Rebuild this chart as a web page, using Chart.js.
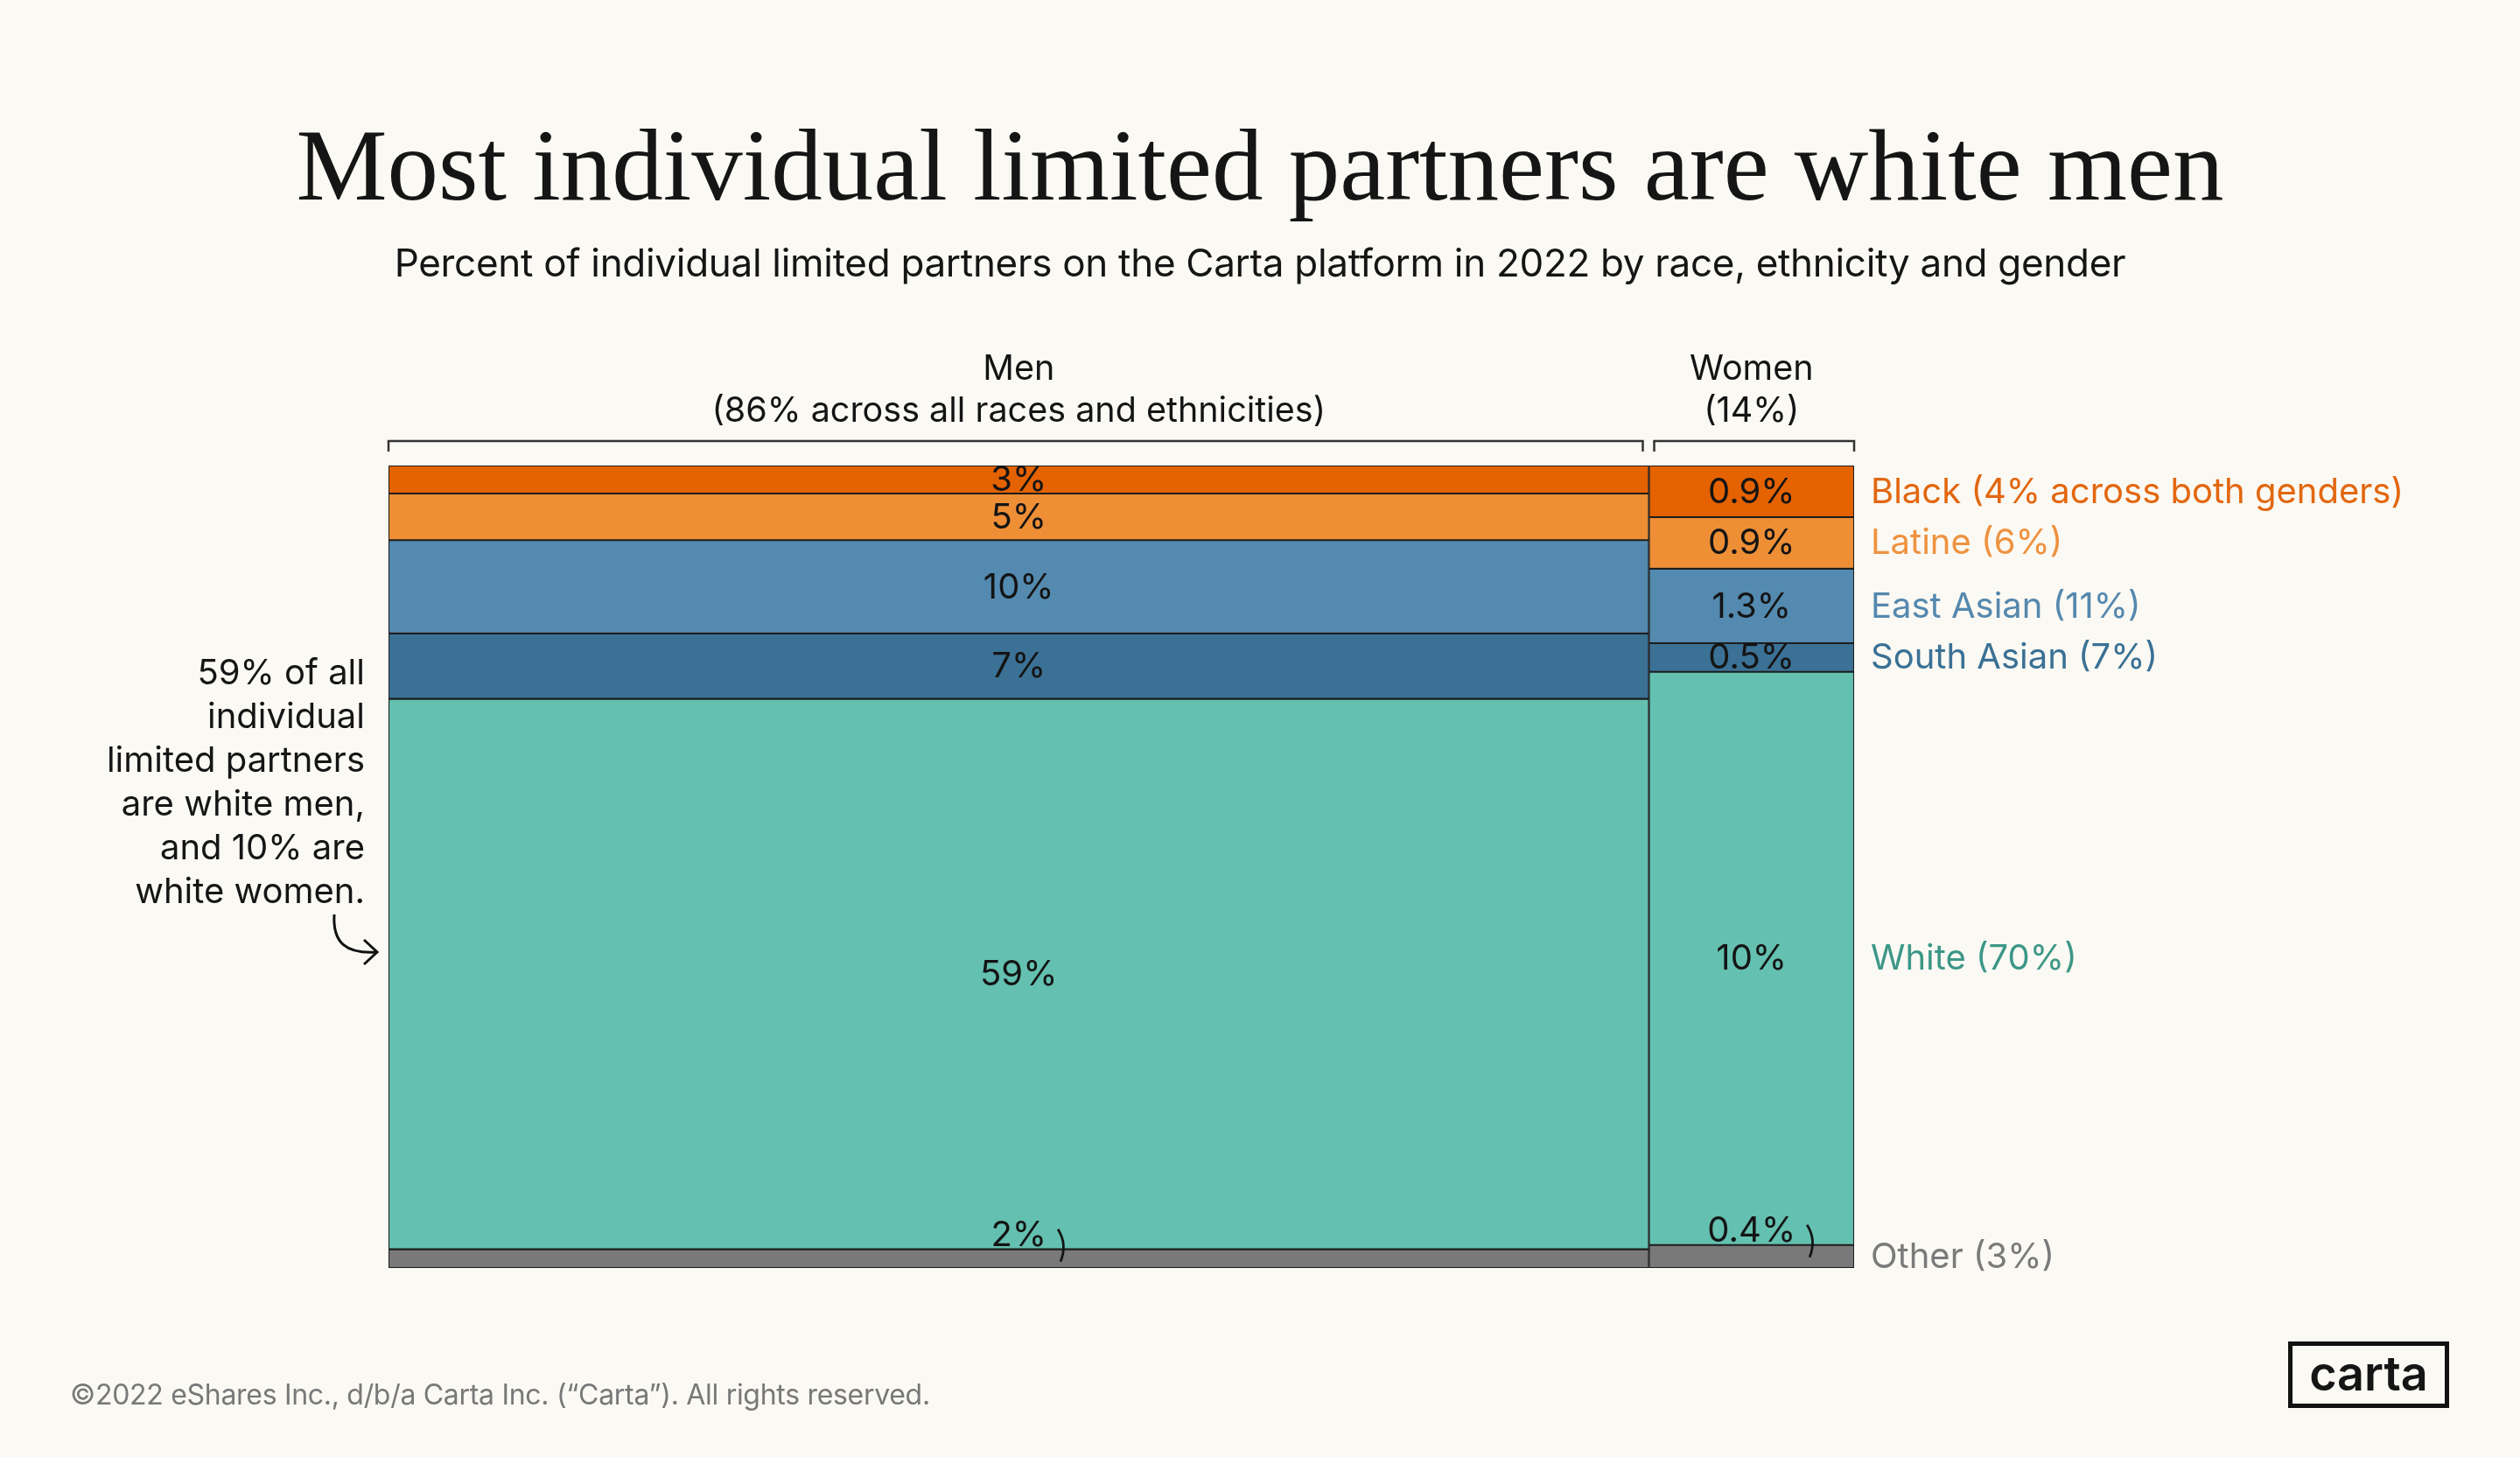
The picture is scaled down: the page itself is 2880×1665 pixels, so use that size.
<!DOCTYPE html>
<html>
<head>
<meta charset="utf-8">
<script src="https://cdn.jsdelivr.net/npm/chart.js@4.4.1/dist/chart.umd.min.js"></script>
<style>
body{margin:0;background:#fbf9f3;width:2880px;height:1665px;overflow:hidden;position:relative;font-family:Inter,sans-serif;color:#151515;}
#chart{position:absolute;left:0;top:0;}
#title{position:absolute;left:0;top:130px;width:2880px;text-align:center;font-family:"Liberation Serif",serif;font-size:117px;line-height:1;}
#subtitle{position:absolute;left:0;top:278px;width:2880px;text-align:center;font-size:44px;line-height:1;letter-spacing:-0.3px;}
#note{position:absolute;right:2463px;top:743px;text-align:right;font-size:40px;line-height:50px;}
#arrow{position:absolute;left:0;top:0;}
#footer{position:absolute;left:80px;top:1578px;font-size:32px;line-height:1;color:#787878;letter-spacing:-0.3px;}
#logo{position:absolute;left:2615px;top:1533px;width:174px;height:62px;border:5px solid #111;display:flex;align-items:center;justify-content:center;font-size:54px;font-weight:600;padding-bottom:4px;box-sizing:content-box;}
</style>
</head>
<body>
<canvas id="chart" width="2880" height="1665"></canvas>
<div id="title">Most individual limited partners are white men</div>
<div id="subtitle">Percent of individual limited partners on the Carta platform in 2022 by race, ethnicity and gender</div>
<div id="note">59% of all<br>individual<br>limited partners<br>are white men,<br>and 10% are<br>white women.</div>
<svg id="arrow" width="480" height="1140"><path d="M382 1045 C 380 1078, 396 1090, 430 1088" stroke="#111" stroke-width="3" fill="none"/><path d="M416 1074 L431 1088 L416 1102" stroke="#111" stroke-width="3" fill="none"/></svg>
<div id="footer">©2022 eShares Inc., d/b/a Carta Inc. (“Carta”). All rights reserved.</div>
<div id="logo">carta</div>
<script>
// columns (share of all LPs, %)
const genders=["Men","Women"]
const genderNotes=["(86% across all races and ethnicities)","(14%)"]
const genderShare=[86,14]

// segments, top to bottom
const races=["Black","Latine","East Asian","South Asian","White","Other"]
const menValues=[3,5,10,7,59,2]
const womenValues=[0.9,0.9,1.3,0.5,10,0.4]
const legendLabels=["Black (4% across both genders)","Latine (6%)","East Asian (11%)","South Asian (7%)","White (70%)","Other (3%)"]

const raceColors=["#e56200","#ee8f36","#548aaf","#3b7195","#64c0b0","#797979"]
const raceTextColors=["#e2670f","#ee9240","#5588ae","#3a7195","#3c9787","#7a7a7a"]

const columns=[menValues,womenValues]
const sum=a=>a.reduce((s,v)=>s+v,0)

let run=0
const columnStart=genderShare.map(s=>{const a=run;run+=s;return a})

const datasets=[]
columns.forEach((vals,g)=>{
// stack from the bottom up
for(let r=races.length-1;r>=0;r--){
datasets.push({
label:genders[g]+" "+races[r],
data:[{x:columnStart[g]+genderShare[g]/2,y:vals[r]}],
backgroundColor:raceColors[r],
borderColor:"#1d1d1d",
borderWidth:1.4,
borderSkipped:false,
yAxisID:g===0?"yMen":"yWomen",
barThickness:ctx=>{
const x=ctx.chart.scales.x
return x.getPixelForValue(genderShare[g])-x.getPixelForValue(0)
},
race:r,
gender:g
})
}
})

const labelPlugin={
id:"segmentLabels",
afterDatasetsDraw(chart){
const ctx=chart.ctx
const area=chart.chartArea
const xs=chart.scales.x
ctx.save()
ctx.textAlign="center"
ctx.font="40px Inter"
ctx.fillStyle="#141414"
ctx.strokeStyle="#141414"

chart.data.datasets.forEach((ds,i)=>{
const bar=chart.getDatasetMeta(i).data[0]
const text=ds.data[0].y+"%"
if(races[ds.race]==="Other"){
// label sits above the thin bar with a small bracket
ctx.textBaseline="alphabetic"
ctx.fillText(text,bar.x,bar.y-4)
const w=ctx.measureText(text).width
const bx=bar.x+w/2+13
ctx.lineWidth=2.8
ctx.beginPath()
ctx.moveTo(bx,bar.y-23)
ctx.quadraticCurveTo(bx+11,bar.y-6,bx+3,bar.y+14)
ctx.stroke()
}else{
ctx.textBaseline="middle"
ctx.fillText(text,bar.x,(bar.y+bar.base)/2+1)
}
// race labels to the right of the last column
if(ds.gender===genders.length-1){
ctx.save()
ctx.textAlign="left"
ctx.textBaseline="middle"
ctx.font="40px Inter"
ctx.fillStyle=raceTextColors[ds.race]
ctx.fillText(legendLabels[ds.race],area.right+19,(bar.y+bar.base)/2+1)
ctx.restore()
}
})

// column headers with brackets
genders.forEach((name,g)=>{
const left=xs.getPixelForValue(columnStart[g])
const right=xs.getPixelForValue(columnStart[g]+genderShare[g])
const x0=left+(g>0?6:0)
const x1=right-(g<genders.length-1?7:0)
ctx.lineWidth=2.5
ctx.strokeStyle="#333"
ctx.beginPath()
ctx.moveTo(x0,area.top-16)
ctx.lineTo(x0,area.top-28)
ctx.lineTo(x1,area.top-28)
ctx.lineTo(x1,area.top-16)
ctx.stroke()
ctx.fillStyle="#141414"
ctx.textBaseline="middle"
ctx.font="39.5px Inter"
ctx.fillText(name,(left+right)/2,area.top-110)
ctx.fillText(genderNotes[g],(left+right)/2,area.top-62)
})
ctx.restore()
}
}

new Chart(document.getElementById("chart"),{
type:"bar",
data:{datasets:datasets},
options:{
responsive:false,
devicePixelRatio:1,
animation:false,
layout:{padding:{left:444,right:761,top:532,bottom:216}},
plugins:{legend:{display:false},tooltip:{enabled:false}},
scales:{
x:{type:"linear",min:0,max:sum(genderShare),stacked:true,offset:false,display:false},
yMen:{type:"linear",min:0,max:sum(menValues),stacked:true,display:false},
yWomen:{type:"linear",min:0,max:sum(womenValues),stacked:true,display:false}
}
},
plugins:[labelPlugin]
})
</script>
</body>
</html>
